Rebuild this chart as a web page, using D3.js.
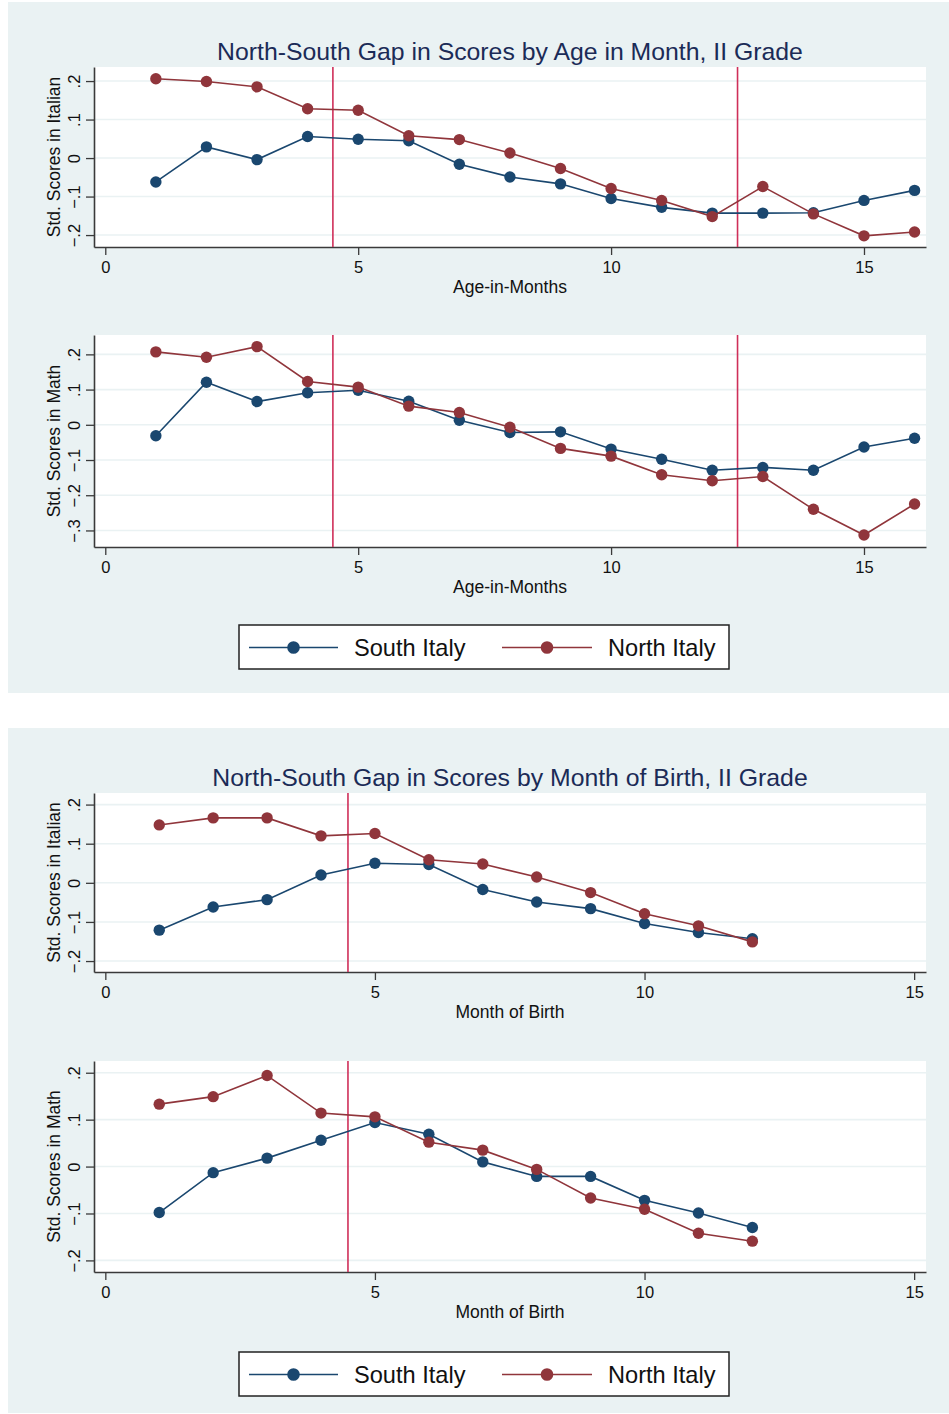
<!DOCTYPE html>
<html lang="en">
<head>
<meta charset="UTF-8">
<title>North-South Gap</title>
<script src="https://cdn.jsdelivr.net/npm/d3@7"></script>
<style>
    body{ margin:0; background:#fff; }
    svg{ display:block; font-family:"Liberation Sans", Arial, sans-serif; }
</style>
</head>
<body>
<script>
// ---- data ----
const ageMonths = d3.range(1, 17)          // 1..16
const birthMonths = d3.range(1, 13)        // 1..12

const ageItalianSouth = [-0.062, 0.029, -0.004, 0.056, 0.049, 0.045, -0.016, -0.049, -0.067, -0.105, -0.128, -0.143, -0.143, -0.142, -0.110, -0.084]
const ageItalianNorth = [0.206, 0.199, 0.185, 0.128, 0.124, 0.058, 0.048, 0.013, -0.027, -0.079, -0.110, -0.152, -0.074, -0.145, -0.202, -0.192]
const ageMathSouth = [-0.031, 0.121, 0.066, 0.091, 0.098, 0.067, 0.013, -0.022, -0.020, -0.069, -0.098, -0.129, -0.121, -0.129, -0.063, -0.038]
const ageMathNorth = [0.207, 0.192, 0.222, 0.123, 0.107, 0.053, 0.035, -0.007, -0.067, -0.089, -0.142, -0.159, -0.147, -0.240, -0.313, -0.225]

const mobItalianSouth = [-0.121, -0.062, -0.043, 0.020, 0.050, 0.047, -0.017, -0.049, -0.066, -0.104, -0.127, -0.143]
const mobItalianNorth = [0.148, 0.166, 0.166, 0.120, 0.126, 0.059, 0.048, 0.015, -0.025, -0.079, -0.110, -0.151]
const mobMathSouth = [-0.098, -0.013, 0.018, 0.056, 0.094, 0.069, 0.010, -0.021, -0.021, -0.072, -0.099, -0.130]
const mobMathNorth = [0.133, 0.149, 0.194, 0.114, 0.106, 0.052, 0.035, -0.006, -0.067, -0.091, -0.142, -0.159]

const xTicks = [0, 5, 10, 15]
const yTicksSmall = [-0.2, -0.1, 0, 0.1, 0.2]
const yTicksMath = [-0.3, -0.2, -0.1, 0, 0.1, 0.2]
const seriesNames = ["South Italy", "North Italy"]
const cutoffsAge = [4.5, 12.5]
const cutoffsMob = [4.5]

const titles = ["North-South Gap in Scores by Age in Month, II Grade",
                "North-South Gap in Scores by Month of Birth, II Grade"]

// ---- styling ----
const W = 949, H = 1414
const bg = "#eaf2f3"
const colSouth = "#1a476f"
const colNorth = "#90353b"
const colCut = "#cf2f59"
const colAxis = "#3a3a3a"
const colTitle = "#1b2b57"

const svg = d3.select("body").append("svg")
    .attr("width", W).attr("height", H)

// figure backgrounds
svg.append("rect").attr("x", 8).attr("y", 2).attr("width", W - 8).attr("height", 691).attr("fill", bg)
svg.append("rect").attr("x", 8).attr("y", 728).attr("width", W - 8).attr("height", 685).attr("fill", bg)

const fmt = v => v === 0 ? "0" : d3.format(".1f")(v).replace("0.", ".")

function panel(cfg){
    const {top, bottom, xDom, yDom, yTicks, xs, south, north, cuts, ytitle, xtitle} = cfg
    const left = 94, right = 926
    const x = d3.scaleLinear().domain(xDom).range([left, right])
    const y = d3.scaleLinear().domain(yDom).range([bottom, top])
    const g = svg.append("g")

    g.append("rect").attr("x", left).attr("y", top)
        .attr("width", right - left).attr("height", bottom - top).attr("fill", "#fff")

    // gridlines
    g.selectAll(".grid").data(yTicks).enter().append("line")
        .attr("x1", left).attr("x2", right)
        .attr("y1", d => y(d)).attr("y2", d => y(d))
        .attr("stroke", bg).attr("stroke-width", 1.6)

    // axes
    const yAx = g.append("g").attr("transform", `translate(${left},0)`)
        .call(d3.axisLeft(y).tickValues(yTicks).tickSize(8).tickSizeOuter(0).tickFormat(fmt))
    const xAx = g.append("g").attr("transform", `translate(0,${bottom})`)
        .call(d3.axisBottom(x).tickValues(xTicks).tickSize(8).tickSizeOuter(0))
    ;[yAx, xAx].forEach(a => {
        a.select(".domain").attr("stroke", colAxis).attr("stroke-width", 1.6)
        a.selectAll(".tick line").attr("stroke", colAxis).attr("stroke-width", 1.3)
        a.selectAll("text").attr("fill", "#111").attr("font-size", 16.5)
            .attr("font-family", "Liberation Sans, Arial, sans-serif")
    })
    xAx.selectAll("text").attr("y", 14)
    yAx.selectAll(".tick text")
        .attr("x", null).attr("dy", null)
        .attr("text-anchor", "middle")
        .attr("transform", "translate(-20,0) rotate(-90)")
        .attr("dominant-baseline", "central")

    // axis titles
    g.append("text").attr("x", 510).attr("y", bottom + 46)
        .attr("text-anchor", "middle").attr("font-size", 17.5).attr("fill", "#111")
        .text(xtitle)
    g.append("text")
        .attr("transform", `translate(54,${(top + bottom) / 2}) rotate(-90)`)
        .attr("text-anchor", "middle").attr("dominant-baseline", "central")
        .attr("font-size", 17.5).attr("fill", "#111")
        .text(ytitle)

    // cutoff lines
    g.selectAll(".cut").data(cuts).enter().append("line")
        .attr("x1", d => x(d)).attr("x2", d => x(d))
        .attr("y1", top).attr("y2", bottom)
        .attr("stroke", colCut).attr("stroke-width", 1.6)

    const line = d3.line().x(d => x(d[0])).y(d => y(d[1]))
    ;[[south, colSouth], [north, colNorth]].forEach(([vals, c]) => {
        const pts = xs.map((m, i) => [m, vals[i]])
        g.append("path").datum(pts).attr("d", line)
            .attr("fill", "none").attr("stroke", c).attr("stroke-width", 1.6)
        g.selectAll(null).data(pts).enter().append("circle")
            .attr("cx", d => x(d[0])).attr("cy", d => y(d[1]))
            .attr("r", 5.7).attr("fill", c)
    })
}

function title(text, yc){
    svg.append("text").attr("x", 510).attr("y", yc)
        .attr("text-anchor", "middle").attr("dominant-baseline", "central")
        .attr("font-size", 24.8).attr("fill", colTitle)
        .text(text)
}

function legend(top){
    const g = svg.append("g")
    g.append("rect").attr("x", 239).attr("y", top).attr("width", 490).attr("height", 44)
        .attr("fill", "#fff").attr("stroke", "#222").attr("stroke-width", 1.5)
    const cy = top + 22.5
    const items = [
        {name: seriesNames[0], c: colSouth, x1: 249, x2: 338, tx: 354},
        {name: seriesNames[1], c: colNorth, x1: 502, x2: 592, tx: 608}
    ]
    items.forEach(it => {
        g.append("line").attr("x1", it.x1).attr("x2", it.x2).attr("y1", cy).attr("y2", cy)
            .attr("stroke", it.c).attr("stroke-width", 1.6)
        g.append("circle").attr("cx", (it.x1 + it.x2) / 2).attr("cy", cy).attr("r", 6.3).attr("fill", it.c)
        g.append("text").attr("x", it.tx).attr("y", cy).attr("dominant-baseline", "central")
            .attr("font-size", 23.6).attr("fill", "#111").text(it.name)
    })
}

// ---- figure 1: age in months ----
title(titles[0], 51)
panel({top: 67, bottom: 247, xDom: [-0.223, 16.226], yDom: [-0.231, 0.2365], yTicks: yTicksSmall,
       xs: ageMonths, south: ageItalianSouth, north: ageItalianNorth, cuts: cutoffsAge,
       ytitle: "Std. Scores in Italian", xtitle: "Age-in-Months"})
panel({top: 335, bottom: 547, xDom: [-0.223, 16.226], yDom: [-0.347, 0.255], yTicks: yTicksMath,
       xs: ageMonths, south: ageMathSouth, north: ageMathNorth, cuts: cutoffsAge,
       ytitle: "Std. Scores in Math", xtitle: "Age-in-Months"})
legend(625)

// ---- figure 2: month of birth ----
title(titles[1], 777)
panel({top: 793, bottom: 972, xDom: [-0.21, 15.22], yDom: [-0.228, 0.2296], yTicks: yTicksSmall,
       xs: birthMonths, south: mobItalianSouth, north: mobItalianNorth, cuts: cutoffsMob,
       ytitle: "Std. Scores in Italian", xtitle: "Month of Birth"})
panel({top: 1061, bottom: 1272, xDom: [-0.21, 15.22], yDom: [-0.2247, 0.225], yTicks: yTicksSmall,
       xs: birthMonths, south: mobMathSouth, north: mobMathNorth, cuts: cutoffsMob,
       ytitle: "Std. Scores in Math", xtitle: "Month of Birth"})
legend(1352)
</script>
</body>
</html>
